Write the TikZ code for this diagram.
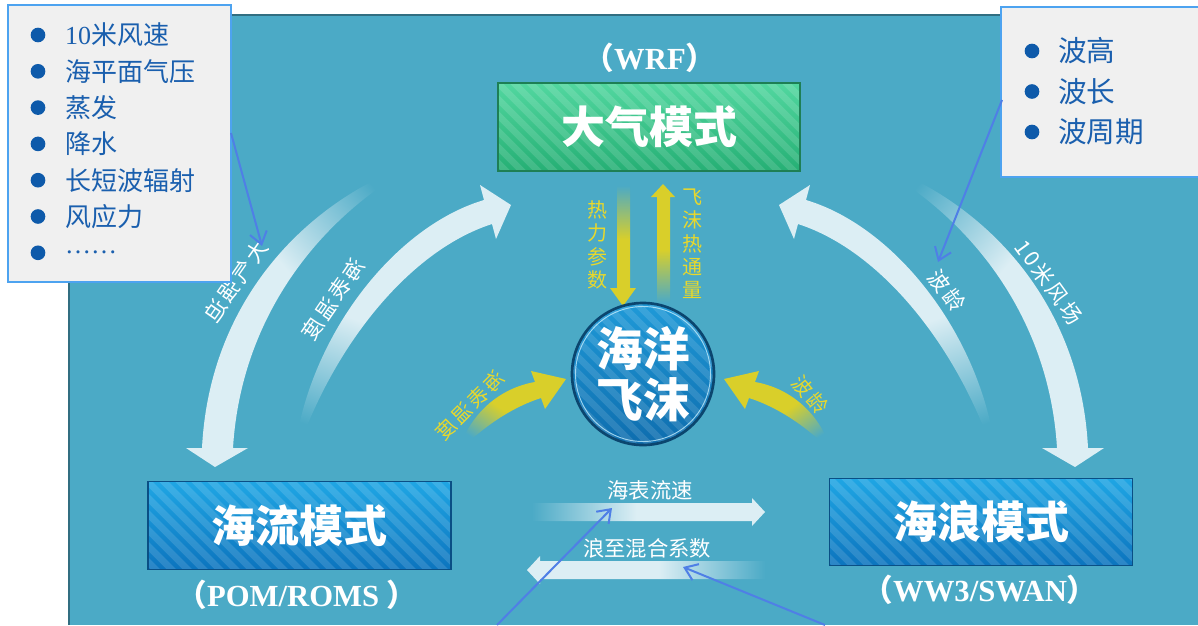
\documentclass[tikz,border=0pt]{standalone}
\usepackage{fontspec}
\setmainfont{Liberation Serif}
\newfontfamily\cjk{Noto Sans CJK SC}
\usetikzlibrary{arrows.meta,calc}
\definecolor{bgc}{HTML}{4BAAC6}
\definecolor{arrowc}{HTML}{DCEEF4}
\definecolor{yelc}{HTML}{D9CF2A}
\definecolor{ytext}{HTML}{E8D82C}
\definecolor{listc}{HTML}{1A5FAE}
\definecolor{listbg}{HTML}{F0F0F0}
\definecolor{bulc}{HTML}{0E5AAA}
\definecolor{annc}{HTML}{4F7FE6}
\definecolor{boxbd}{HTML}{4DA3F0}
\definecolor{gtop}{HTML}{52D7A0}
\definecolor{gbot}{HTML}{25AF74}
\definecolor{gbd}{HTML}{1E7F55}
\definecolor{btop}{HTML}{1FA6E4}
\definecolor{bbot}{HTML}{0C74BE}
\definecolor{bbd}{HTML}{0A4F85}
\definecolor{ctop}{HTML}{1F9AD8}
\definecolor{cbot}{HTML}{0E6DAE}
\definecolor{cbd}{HTML}{0B466F}
\pgfdeclareverticalshading{wfade}{100bp}{color(0bp)=(arrowc); color(52bp)=(arrowc); color(74bp)=(bgc); color(100bp)=(bgc)}
\pgfdeclareverticalshading{yfade}{100bp}{color(0bp)=(yelc); color(52bp)=(yelc); color(74bp)=(bgc); color(100bp)=(bgc)}
\begin{document}
\begin{tikzpicture}[x=0.75pt,y=0.75pt,
  every node/.style={inner sep=0pt, outer sep=0pt},
  listbox/.style={draw=boxbd, line width=1.2pt, fill=listbg, anchor=north west},
  bullet/.style={circle, fill=bulc, minimum size=11pt},
  litem/.style={anchor=west, text=listc, font=\cjk\fontsize{19.5}{22}\selectfont},
  ritem/.style={anchor=west, text=listc, font=\cjk\fontsize{21.5}{24}\selectfont},
  stripes/.style={path picture={\foreach \k in {0,...,34}{\draw[white,opacity=#1,line width=5pt] ($(path picture bounding box.north west)+(\k*16-140,12)$) -- ++(160,-160);}}},
  greenbox/.style={draw=gbd, line width=0.8pt, top color=gtop, bottom color=gbot, stripes=0.13, minimum width=226.5pt, minimum height=66pt, text=white, font=\cjk\bfseries\fontsize{33}{36}\selectfont},
  bluebox/.style={draw=bbd, line width=0.8pt, top color=btop, bottom color=bbot, stripes=0.13, minimum width=227.25pt, minimum height=65.5pt, text=white, font=\cjk\bfseries\fontsize{33}{36}\selectfont},
  spraystyle/.style={circle, draw=cbd, line width=2pt, top color=ctop, bottom color=cbot, stripes=0.12, minimum size=106.5pt, text=white, align=center, font=\cjk\bfseries\fontsize{35}{38}\selectfont},
  modelname/.style={text=white, font=\bfseries\fontsize{23}{26}\selectfont},
  arclabel/.style={text=white, font=\cjk\addfontfeatures{LetterSpace=12}\fontsize{16}{18}\selectfont},
  flatlabel/.style={text=white, font=\cjk\fontsize{16}{18}\selectfont},
  ylabel/.style={text=ytext, font=\cjk\addfontfeatures{LetterSpace=14}\fontsize{15}{18}\selectfont},
  yvlabel/.style={text=ytext, align=center, font=\cjk\fontsize{15}{17.5}\selectfont},
  ann/.style={draw=annc, line width=1.5pt, -{Straight Barb[length=9pt,width=13pt]}},
]
\useasboundingbox (0,0) rectangle (1198,-625);
\fill[white] (0,0) rectangle (1198,-625);
\fill[bgc] (69,-15) rectangle (1198,-625);
\draw[color=black!35!bgc, line width=0.8pt] (69,-625) -- (69,-15) -- (1198,-15);

% big white arrows
\shade[shading=wfade, shading angle=-50] (430,-158) .. controls (320,-190) and (210,-290) .. (202,-448) -- (186,-448) -- (215,-467) -- (248,-448) -- (233,-448) .. controls (242,-300) and (340,-200) .. (430,-158) -- cycle;
\shade[shading=wfade, shading angle=50] (860,-158) .. controls (970,-190) and (1080,-290) .. (1088,-448) -- (1104,-448) -- (1075,-467) -- (1042,-448) -- (1057,-448) .. controls (1048,-300) and (950,-200) .. (860,-158) -- cycle;
\shade[shading=wfade, shading angle=160] (293,-465) .. controls (303,-345) and (390,-228) .. (484,-200) -- (480,-185) -- (511,-205) -- (496,-239) -- (492,-224) .. controls (405,-252) and (327,-355) .. (293,-465) -- cycle;
\shade[shading=wfade, shading angle=-160] (997,-465) .. controls (987,-345) and (900,-228) .. (806,-200) -- (810,-185) -- (779,-205) -- (794,-239) -- (798,-224) .. controls (885,-252) and (963,-355) .. (997,-465) -- cycle;

% horizontal arrows
\shade[shading=wfade, shading angle=90] (527,-503) -- (752,-503) -- (752,-498) -- (765,-512) -- (752,-526) -- (752,-521) -- (527,-521) -- cycle;
\shade[shading=wfade, shading angle=-90] (770,-561) -- (540,-561) -- (540,-556) -- (527,-570) -- (540,-584) -- (540,-579) -- (770,-579) -- cycle;

% yellow arrows
\shade[shading=yfade] (617,-183) -- (630,-183) -- (630,-288) -- (636,-288) -- (623,-306) -- (610,-288) -- (617,-288) -- cycle;
\shade[shading=yfade, shading angle=180] (657,-305) -- (657,-197) -- (651,-197) -- (663,-184) -- (675,-197) -- (670,-197) -- (670,-305) -- cycle;
\shade[shading=yfade, shading angle=145] (458,-452) .. controls (470,-413) and (500,-388) .. (535,-382) -- (531,-371) -- (566,-379) -- (545,-409) -- (541,-398) .. controls (510,-408) and (482,-428) .. (458,-452) -- cycle;
\shade[shading=yfade, shading angle=-145] (832,-452) .. controls (820,-413) and (790,-388) .. (755,-382) -- (759,-371) -- (724,-379) -- (745,-409) -- (749,-398) .. controls (780,-408) and (808,-428) .. (832,-452) -- cycle;

% model boxes
\node[greenbox] (atm) at (649,-127) {大气模式};
\node[modelname] (wrf) at (650,-58) {{\cjk （}WRF{\cjk ）}};
\node[bluebox] (ocean) at (299.5,-525.5) {海流模式};
\node[modelname] (pom) at (297,-595) {{\cjk （}POM/ROMS {\cjk ）}};
\node[bluebox] (wave) at (981,-522) {海浪模式};
\node[modelname] (ww3) at (980,-590) {{\cjk （}WW3/SWAN{\cjk ）}};
\node[spraystyle] (spray) at (643,-374) {海洋\\飞沫};
\draw[cyan!25, line width=0.7pt, opacity=0.8] (spray.center) circle[radius=67.5];

% arrow labels
\node[arclabel, rotate=55, xscale=-1] (lblA1) at (236,-281) {大气强迫};
\node[arclabel, rotate=55.6, xscale=-1] (lblA2) at (333,-299) {海表温度};
\node[arclabel, rotate=-53] (lblA3) at (947,-291) {波龄};
\node[arclabel, rotate=-54] (lblA4) at (1049,-282) {10米风场};
\node[flatlabel] (lblH1) at (650,-490) {海表流速};
\node[flatlabel] (lblH2) at (647,-548) {浪至混合系数};
\node[yvlabel] (lblY1) at (597,-245) {热\\力\\参\\数};
\node[yvlabel] (lblY2) at (692,-244) {飞\\沫\\热\\通\\量};
\node[ylabel, rotate=45, xscale=-1] (lblY3) at (470,-405) {海表温度};
\node[ylabel, rotate=-50] (lblY4) at (810,-395) {波龄};

% left list
\node[listbox, minimum width=167.25pt, minimum height=207.75pt] (leftbox) at (8,-5) {};
\foreach \t [count=\i] in {{\rmfamily 10}米风速, 海平面气压, 蒸发, 降水, 长短波辐射, 风应力, {\rmfamily ……}}{
  \node[bullet] (lb\i) at (38,{-35-(\i-1)*36.3}) {};
  \node[litem] (lt\i) at (65,{-35-(\i-1)*36.3}) {\t};
}
% right list
\node[listbox, minimum width=150pt, minimum height=127.5pt] (rightbox) at (1001,-7) {};
\foreach \t [count=\i] in {波高, 波长, 波周期}{
  \node[bullet] (rb\i) at (1032,{-51-(\i-1)*40.5}) {};
  \node[ritem] (rt\i) at (1058,{-51-(\i-1)*40.5}) {\t};
}

% annotation arrows
\coordinate (ann1s) at (231,-133);
\coordinate (ann1e) at (262,-246);
\coordinate (ann2s) at (1002,-100);
\coordinate (ann2e) at (938,-262);
\coordinate (ann3s) at (497,-625);
\coordinate (ann3e) at (612,-508);
\coordinate (ann4s) at (825,-625);
\coordinate (ann4e) at (683,-567);
\draw[ann] (ann1s) -- (ann1e);
\draw[ann] (ann2s) -- (ann2e);
\draw[ann] (ann3s) -- (ann3e);
\draw[ann] (ann4s) -- (ann4e);
\end{tikzpicture}
\end{document}
